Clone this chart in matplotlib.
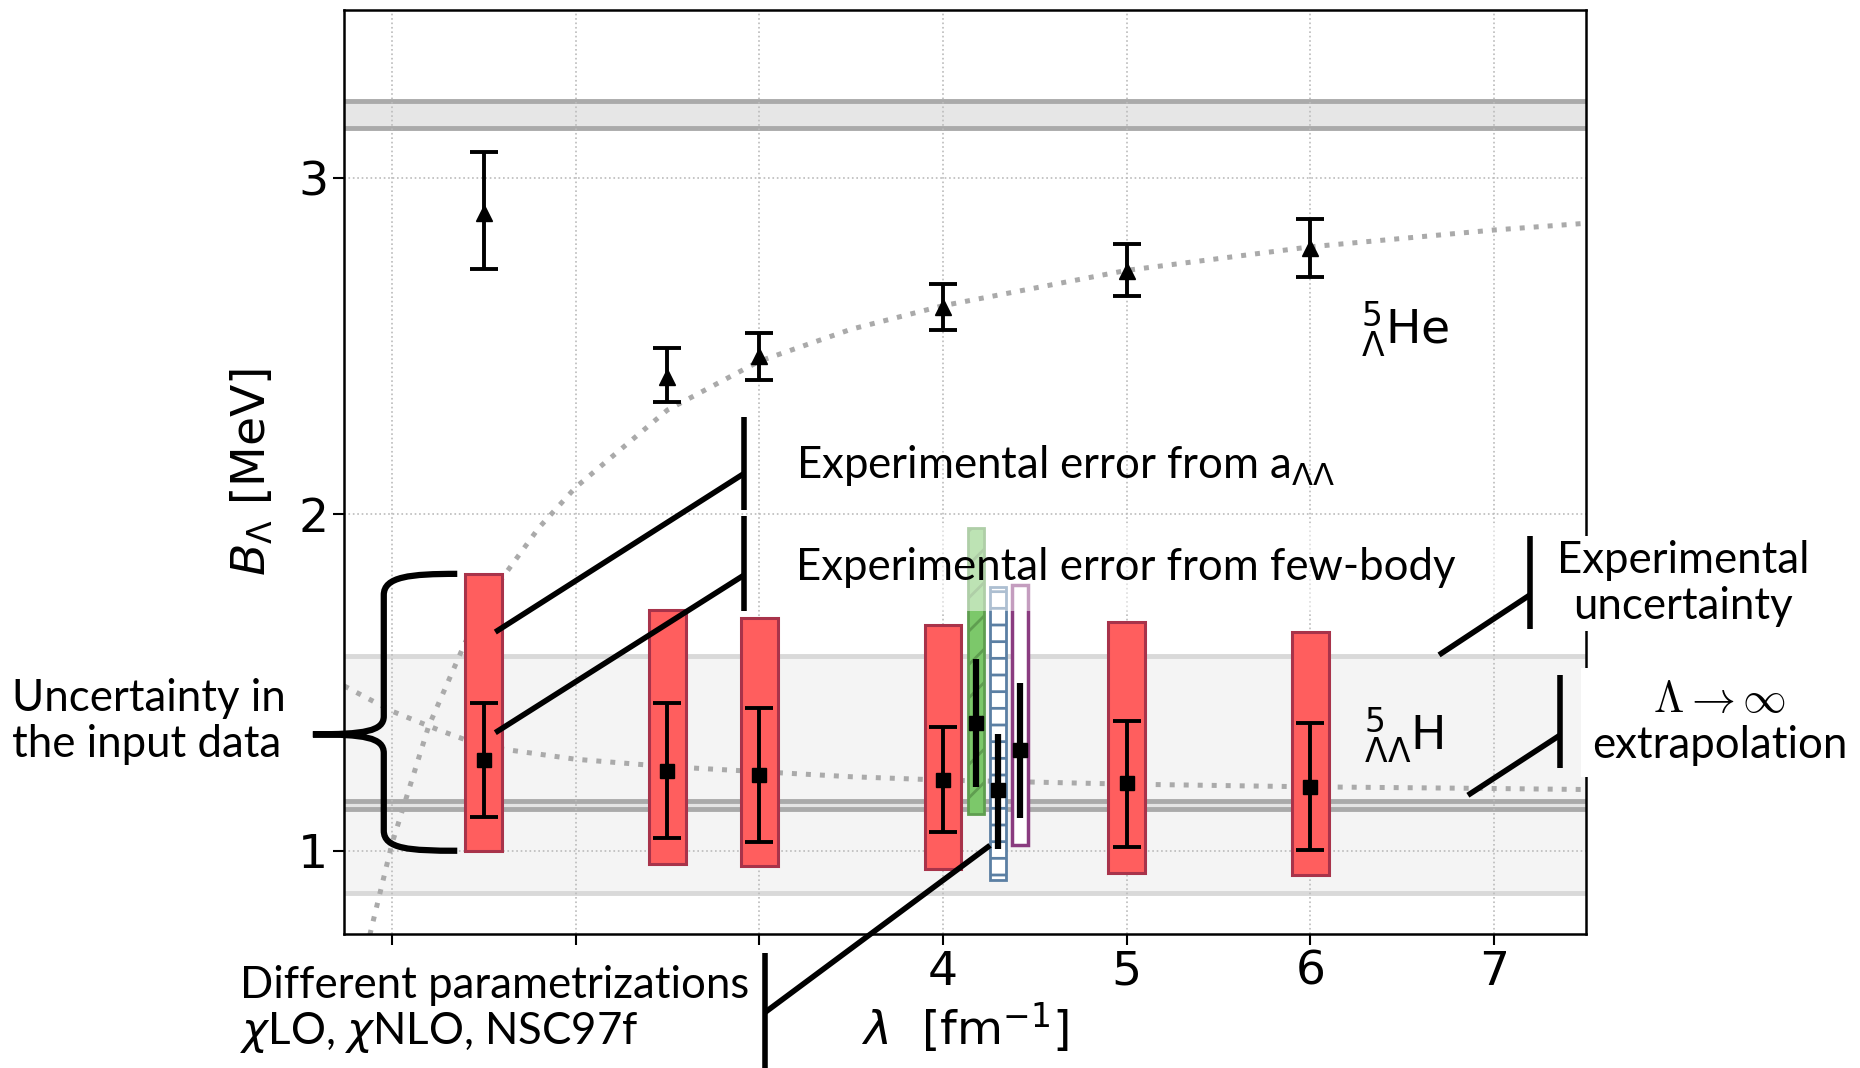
import numpy as np
import matplotlib.pyplot as plt
from matplotlib.patches import Rectangle, PathPatch
from matplotlib.path import Path

plt.rcParams['hatch.linewidth'] = 2.0

# cutoff values lambda [fm^-1]
lam = [1.5, 2.5, 3.0, 4.0, 5.0, 6.0]

# 5_Lambda He
he_B = [2.896, 2.407, 2.471, 2.615, 2.723, 2.792]
he_lo = [2.730, 2.333, 2.400, 2.547, 2.649, 2.706]
he_hi = [3.077, 2.493, 2.540, 2.684, 2.802, 2.878]

# 5_LambdaLambda H, points + input-data uncertainty boxes
hh_B = [1.270, 1.236, 1.226, 1.210, 1.200, 1.190]
hh_lo = [1.099, 1.037, 1.027, 1.056, 1.012, 1.002]
hh_hi = [1.440, 1.440, 1.425, 1.369, 1.387, 1.379]
box_lo = [0.998, 0.961, 0.955, 0.945, 0.935, 0.928]
box_hi = [1.823, 1.717, 1.692, 1.671, 1.679, 1.651]

# other parametrizations near lambda = 4 (chiLO, chiNLO, NSC97f)
par_lam = [4.18, 4.30, 4.42]
par_B = [1.380, 1.180, 1.298]
par_lo = [1.189, 1.006, 1.097]
par_hi = [1.571, 1.348, 1.500]
par_box_lo = [1.110, 0.912, 1.016]
par_box_hi = [1.958, 1.784, 1.789]

# fit curves
he_fit_x = [0.88, 1.0, 1.2, 1.4, 1.6, 1.8, 2.0, 2.5, 3.0, 3.5, 4.0, 5.0, 6.0, 7.0, 7.5]
he_fit_y = [0.75, 1.02, 1.37, 1.62, 1.81, 1.96, 2.08, 2.31, 2.455, 2.55, 2.62, 2.725, 2.795, 2.845, 2.865]
hh_fit_x = [0.74, 1.0, 1.25, 1.5, 2.0, 2.5, 3.0, 3.5, 4.0, 5.0, 6.0, 7.0, 7.5]
hh_fit_y = [1.49, 1.415, 1.36, 1.31, 1.272, 1.25, 1.235, 1.22, 1.21, 1.198, 1.19, 1.185, 1.182]

# experimental values / extrapolation
he_exp = [3.147, 3.229]
hh_exp = [0.875, 1.580]
hh_inf = [1.125, 1.148]

fig = plt.figure(figsize=(18.6, 10.68), dpi=100)
ax = fig.add_axes([0.185, 0.1256, 0.6677, 0.8654])

# bands
ax.axhspan(*hh_exp, color='#f4f4f4', lw=0, zorder=0.2)
for v in hh_exp:
    ax.axhline(v, color='#d9d9d9', lw=3.5, zorder=0.3)
ax.axhspan(*hh_inf, color='#e4e4e4', lw=0, zorder=0.2)
for v in hh_inf:
    ax.axhline(v, color='#aaaaaa', lw=3.5, zorder=0.3)
ax.axhspan(*he_exp, color='#e6e6e6', lw=0, zorder=0.2)
for v in he_exp:
    ax.axhline(v, color='#aaaaaa', lw=3.5, zorder=0.3)

ax.grid(True, ls=':', color='#bbbbbb', lw=1.2)
ax.set_axisbelow(True)

# fits
dots = (0, (1, 1.8))
ax.plot(he_fit_x, he_fit_y, ls=dots, lw=3.6, color='#aaaaaa', zorder=1)
ax.plot(hh_fit_x, hh_fit_y, ls=dots, lw=3.6, color='#aaaaaa', zorder=1)

# input uncertainty boxes
ax.bar(lam, np.subtract(box_hi, box_lo), bottom=box_lo, width=0.2,
       color='#ff5e5e', edgecolor='#a8334a', lw=2.2, zorder=2)

ax.bar(par_lam[0], par_box_hi[0] - par_box_lo[0], bottom=par_box_lo[0], width=0.088,
       facecolor='#7cc86a', edgecolor='#5f9e50', hatch='/', lw=2, zorder=2)
ax.bar(par_lam[1], par_box_hi[1] - par_box_lo[1], bottom=par_box_lo[1], width=0.088,
       facecolor='white', edgecolor='#5b7fa3', hatch='-', lw=2, zorder=2)
ax.bar(par_lam[2], par_box_hi[2] - par_box_lo[2], bottom=par_box_lo[2], width=0.088,
       facecolor='white', edgecolor='#8a3c80', lw=2.5, zorder=2)

# data points
ax.errorbar(lam, he_B, yerr=[np.subtract(he_B, he_lo), np.subtract(he_hi, he_B)],
            fmt='^', color='k', ms=11, capsize=10, elinewidth=2.8, capthick=2.8, zorder=4)
ax.errorbar(lam, hh_B, yerr=[np.subtract(hh_B, hh_lo), np.subtract(hh_hi, hh_B)],
            fmt='s', color='k', ms=10, capsize=10, elinewidth=2.8, capthick=2.8, zorder=4)
ax.errorbar(par_lam, par_B, yerr=[np.subtract(par_B, par_lo), np.subtract(par_hi, par_B)],
            fmt='s', color='k', ms=10, capsize=0, elinewidth=4.5, zorder=4)

# half transparent box behind the few-body label
ax.add_patch(Rectangle((3.1, 1.714), 4.0, 0.26, fc='white', alpha=0.5, ec='none', zorder=5))

ax.set_xlim(0.74, 7.5)
ax.set_ylim(0.753, 3.5)
ax.set_xticks([1, 2, 3, 4, 5, 6, 7])
ax.set_xticklabels(['', '', '', '4', '5', '6', '7'])
ax.set_yticks([1, 2, 3])
ax.tick_params(labelsize=34, length=8, width=1.5)
for s in ax.spines.values():
    s.set_linewidth(1.8)
ax.set_xlabel(r'$\lambda$  [fm$^{-1}$]', fontsize=34, labelpad=4)
ax.set_ylabel(r'$B_\Lambda$ [MeV]', fontsize=34, labelpad=16)

# annotations
lk = dict(color='k', lw=4, clip_on=False, zorder=6, solid_capstyle='butt')
ax.plot([2.919, 2.919], [2.013, 2.29], **lk)
ax.plot([2.919, 1.563], [2.122, 1.65], **lk)
ax.plot([2.919, 2.919], [1.714, 1.995], **lk)
ax.plot([2.919, 1.563], [1.82, 1.351], **lk)
ax.plot([7.194, 7.194], [1.66, 1.935], **lk)
ax.plot([7.194, 6.70], [1.76, 1.582], **lk)
ax.plot([7.357, 7.357], [1.245, 1.522], **lk)
ax.plot([7.357, 6.857], [1.343, 1.165], **lk)
ax.plot([3.032, 3.032], [0.697, 0.30], **lk)
ax.plot([3.032, 4.256], [0.52, 1.016], **lk)

verts = [(1.356, 1.823), (1.10, 1.823), (0.956, 1.815), (0.956, 1.76),
         (0.956, 1.40), (0.956, 1.355), (0.85, 1.346), (0.57, 1.346),
         (0.85, 1.346), (0.956, 1.337), (0.956, 1.29),
         (0.956, 1.06), (0.956, 1.005), (1.10, 1.0), (1.356, 1.0)]
codes = [Path.MOVETO, Path.CURVE4, Path.CURVE4, Path.CURVE4,
         Path.LINETO, Path.CURVE4, Path.CURVE4, Path.CURVE4,
         Path.CURVE4, Path.CURVE4, Path.CURVE4,
         Path.LINETO, Path.CURVE4, Path.CURVE4, Path.CURVE4]
ax.add_patch(PathPatch(Path(verts, codes), fill=False, lw=4.5, ec='k',
                       clip_on=False, zorder=6))

tf = dict(fontsize=31.5, family='Lato', zorder=7)
ax.text(3.2, 2.146, r'Experimental error from a$_{\Lambda\Lambda}$', va='center', **tf)
ax.text(3.2, 1.843, 'Experimental error from few-body', va='center', **tf)
ax.text(-1.065, 1.385, 'Uncertainty in\nthe input data', va='center', ha='left',
        linespacing=1.15, **tf)
ax.text(0.174, 0.527, 'Different parametrizations\n$\\chi$LO, $\\chi$NLO, NSC97f',
        va='center', ha='left', linespacing=1.1, **tf)
ax.text(8.03, 1.794, 'Experimental\nuncertainty', va='center', ha='center',
        linespacing=1.15, bbox=dict(fc='white', ec='none', pad=3), **tf)
ax.text(8.226, 1.381, '$\\Lambda \\rightarrow \\infty$\nextrapolation', va='center',
        ha='center', linespacing=1.15, math_fontfamily='cm',
        bbox=dict(fc='white', ec='none', pad=8), **tf)

ax.text(6.277, 2.548, r'$^{5}_{\Lambda}$He', fontsize=34, va='center')
ax.text(6.29, 1.342, r'$^{5}_{\Lambda\Lambda}$H', fontsize=34, va='center')

fig.savefig('out.png', dpi=100)
